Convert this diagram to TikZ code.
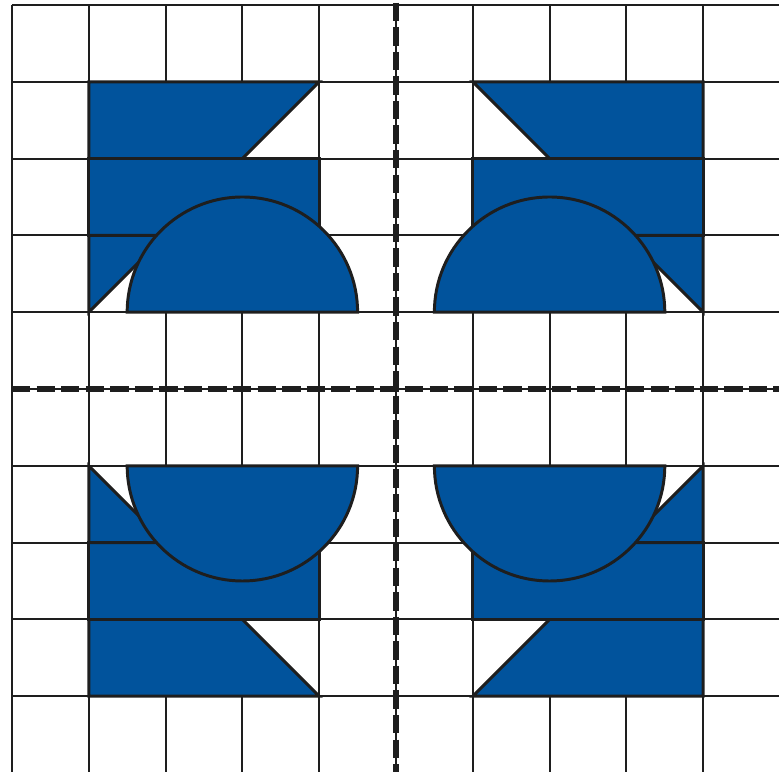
\documentclass[tikz,border=0pt]{standalone}
\definecolor{fillblue}{RGB}{1,83,156}
\definecolor{ink}{RGB}{30,30,30}
\begin{document}
\begin{tikzpicture}[
  gridline/.style={draw=ink, line width=0.8pt},
  bluepart/.style={fill=fillblue, draw=ink, line width=1.1pt, line join=miter},
  axisline/.style={draw=ink, line width=2.4pt, dash pattern=on 6.8pt off 2.3pt}
]
\useasboundingbox (-0.156,0.026) rectangle (9.987,10.065);
\clip (-0.156,0.026) rectangle (9.987,10.065);
\draw[gridline] (0,-0.5) grid (10.5,10);
\foreach \sx/\sy in {1/1,-1/1,1/-1,-1/-1}{
  \begin{scope}[shift={(5,5)}, xscale=\sx, yscale=\sy]
    \draw[bluepart] (-4,4) -- (-1,4) -- (-2,3) -- (-4,3) -- cycle;
    \draw[bluepart] (-4,3) rectangle (-1,2);
    \draw[bluepart] (-4,2) -- (-3,2) -- (-4,1) -- cycle;
    \draw[bluepart] (-0.5,1) arc[start angle=0, end angle=180, radius=1.5] -- cycle;
  \end{scope}
}
\draw[axisline] (0,5) -- (10.5,5);
\draw[axisline] (5,10.03) -- (5,-0.5);
\end{tikzpicture}
\end{document}
